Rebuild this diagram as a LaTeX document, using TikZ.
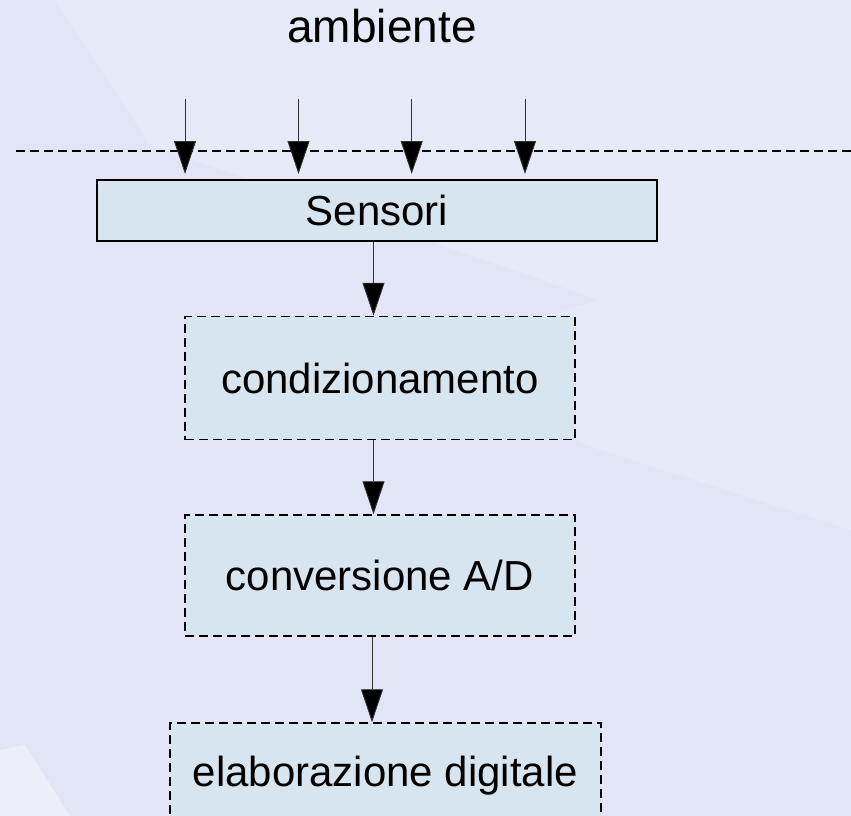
\documentclass[tikz,border=0pt]{standalone}
\usepackage{fontspec}
\setmainfont{Liberation Sans}
\usetikzlibrary{arrows.meta}
\definecolor{bgbase}{HTML}{E1E5F5}
\definecolor{bglight}{HTML}{E6E9F7}
\definecolor{bgwhite}{HTML}{ECEEF9}
\definecolor{boxfill}{HTML}{D6E5F0}
\begin{document}
\begin{tikzpicture}[x=1pt,y=-1pt,
  arr/.style={draw=black!80, line width=0.9pt, -{Triangle[length=33pt,width=22pt,fill=black]}},
  boxbase/.style={draw=black, fill=boxfill, inner sep=0pt, font=\fontsize{42}{50}\selectfont},
  solidbox/.style={boxbase, line width=1.6pt},
  dashbox/.style={boxbase, line width=1.5pt, dash pattern=on 9pt off 5pt},
  sepline/.style={draw=black, line width=1.5pt, dash pattern=on 9pt off 5pt},
  title/.style={font=\fontsize{46}{54}\selectfont, inner sep=0pt}
]
\useasboundingbox (0,0) rectangle (851,816);
\clip (0,0) rectangle (851,816);
% background
\fill[bgbase] (0,0) rectangle (851,816);
\fill[bglight] (55,0) -- (851,0) -- (851,265) -- (600,300) -- (150,145) -- cycle;
\fill[bglight] (380,360) -- (600,300) -- (851,265) -- (851,530) -- (600,450) -- cycle;
\fill[bgwhite] (0,750) -- (25,745) -- (70,816) -- (0,816) -- cycle;

% title
\node[title, anchor=base] (amb) at (382,43) {ambiente};

% separator
\coordinate (sepL) at (16,151);
\coordinate (sepR) at (851,151);
\draw[sepline] (sepL) -- (sepR);

% boxes
\node[solidbox, minimum width=560pt, minimum height=61pt] (sens) at (377,210.5) {Sensori};
\node[dashbox, minimum width=390pt, minimum height=123pt] (cond) at (380,378) {condizionamento};
\node[dashbox, minimum width=390pt, minimum height=121pt] (conv) at (380,575.5) {conversione A/D};
\node[dashbox, minimum width=431pt, minimum height=106pt] (elab) at (385.5,776) {elaborazione digitale};

% input arrows
\foreach \i/\x in {1/185,2/298.5,3/411.7,4/525}{
  \coordinate (in\i) at (\x,99);
  \coordinate (tip\i) at (\x,174);
  \draw[arr] (in\i) -- (tip\i);
}

% chain arrows
\coordinate (cA) at (373.5,0);
\coordinate (cB) at (372,0);
\draw[arr] (sens.south -| cA) -- (cond.north -| cA);
\draw[arr] (cond.south -| cA) -- (conv.north -| cA);
\draw[arr] (conv.south -| cB) -- (elab.north -| cB);
\end{tikzpicture}
\end{document}
